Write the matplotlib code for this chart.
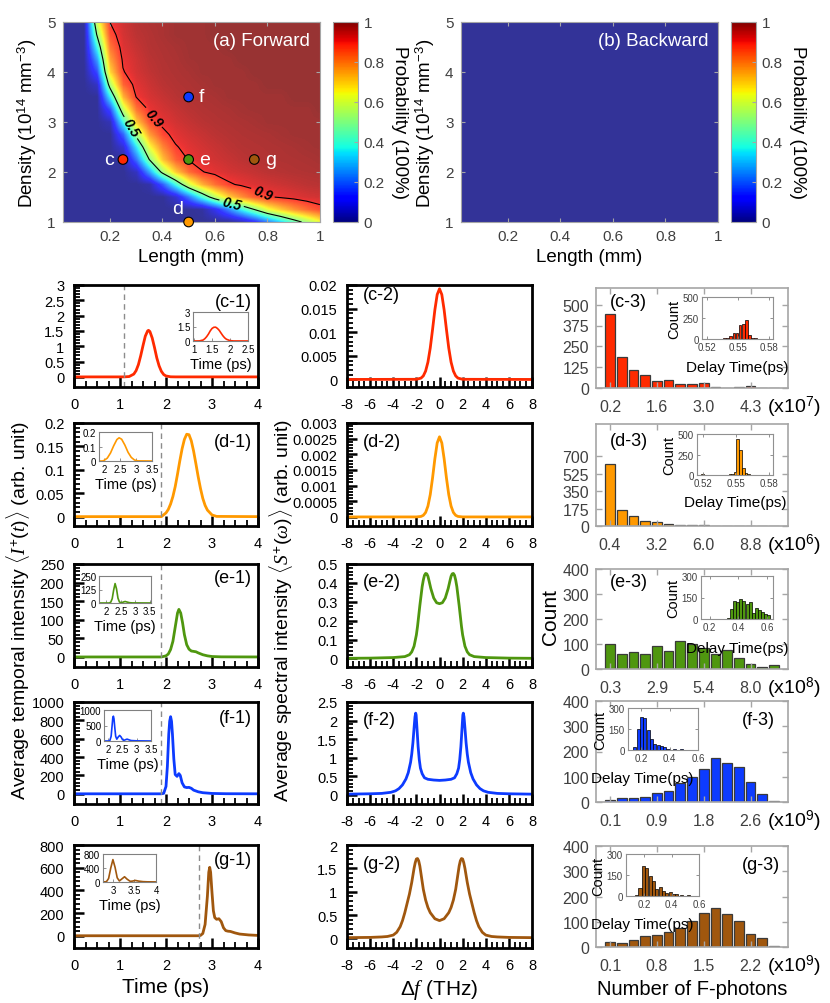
import numpy as np
import matplotlib
matplotlib.use('Agg')
import matplotlib.pyplot as plt
from matplotlib.ticker import FuncFormatter
from matplotlib.cm import ScalarMappable
from matplotlib.colors import Normalize

plt.rcParams['font.family'] = ['Liberation Sans', 'DejaVu Sans']
plt.rcParams['mathtext.fontset'] = 'custom'
plt.rcParams['mathtext.rm'] = 'Liberation Sans'
plt.rcParams['mathtext.it'] = 'Liberation Serif:italic'
plt.rcParams['mathtext.bf'] = 'Liberation Sans:bold'

# ---------------- data: panel (a)/(b) probability maps ----------------
length_grid = [0.0, 0.05, 0.10, 0.15, 0.20, 0.25, 0.30, 0.35, 0.40, 0.45, 0.50,
               0.55, 0.60, 0.65, 0.70, 0.75, 0.80, 0.85, 0.90, 0.95, 1.0]
density_grid = [1.0, 1.25, 1.5, 1.75, 2.0, 2.25, 2.5, 2.75, 3.0, 3.25, 3.5,
                3.75, 4.0, 4.25, 4.5, 4.75, 5.0]
prob_forward = [
    [0,0,0,0,0,0,0,0,0,0,0,0,0,0,0.035,0.11,0.22,0.33,0.44,0.54,0.64],
    [0,0,0,0,0,0,0,0,0,0,0,0.01,0.10,0.23,0.37,0.50,0.63,0.71,0.78,0.835,0.875],
    [0,0,0,0,0,0,0,0,0,0.065,0.22,0.40,0.57,0.70,0.786,0.855,0.892,0.91,0.922,0.933,0.939],
    [0,0,0,0,0,0,0,0.02,0.18,0.39,0.60,0.74,0.83,0.888,0.911,0.927,0.936,0.944,0.952,0.96,0.964],
    [0,0,0,0,0,0,0.045,0.27,0.53,0.71,0.833,0.896,0.918,0.934,0.943,0.952,0.961,0.966,0.971,0.973,0.976],
    [0,0,0,0,0,0,0.21,0.5,0.72,0.85,0.904,0.926,0.939,0.949,0.96,0.967,0.971,0.974,0.976,0.979,0.984],
    [0,0,0,0,0,0.07,0.35,0.64,0.80,0.894,0.921,0.937,0.948,0.96,0.968,0.971,0.974,0.977,0.981,0.987,0.99],
    [0,0,0,0,0,0.19,0.53,0.77,0.88,0.919,0.937,0.949,0.961,0.968,0.973,0.976,0.979,0.985,0.99,0.99,0.99],
    [0,0,0,0,0.035,0.39,0.71,0.87,0.915,0.938,0.951,0.963,0.97,0.974,0.978,0.983,0.99,0.99,0.99,0.99,0.99],
    [0,0,0,0,0.16,0.58,0.82,0.91,0.935,0.95,0.963,0.971,0.975,0.979,0.987,0.99,0.99,0.99,0.99,0.99,1],
    [0,0,0,0,0.36,0.74,0.90,0.932,0.949,0.964,0.972,0.976,0.981,0.99,0.99,0.99,0.99,0.99,1,1,1],
    [0,0,0,0.05,0.55,0.845,0.92,0.944,0.962,0.971,0.976,0.982,0.99,0.99,0.99,0.99,1,1,1,1,1],
    [0,0,0,0.16,0.69,0.895,0.935,0.955,0.969,0.975,0.981,0.99,0.99,0.99,0.99,1,1,1,1,1,1],
    [0,0,0,0.26,0.76,0.91,0.94,0.962,0.972,0.978,0.988,0.99,0.99,0.99,1,1,1,1,1,1,1],
    [0,0,0,0.38,0.82,0.925,0.95,0.968,0.975,0.982,0.99,0.99,0.99,1,1,1,1,1,1,1,1],
    [0,0,0,0.50,0.87,0.935,0.96,0.97,0.98,0.99,0.99,0.99,1,1,1,1,1,1,1,1,1],
    [0,0,0,0.60,0.90,0.94,0.965,0.975,0.98,0.99,0.99,0.99,1,1,1,1,1,1,1,1,1],
]
prob_backward = [[0.0] * 21 for _ in range(17)]

point_names = ['c', 'd', 'e', 'f', 'g']
point_length = [0.25, 0.5, 0.5, 0.5, 0.75]
point_density = [2.25, 1.0, 2.25, 3.5, 2.25]
colors = {'c': '#FF2A00', 'd': '#FF9900', 'e': '#4F970F', 'f': '#0D3BFF', 'g': '#A0570E'}

# ---------------- data: temporal intensity (column 1) ----------------
t_c = [0, 1.0, 1.1, 1.2, 1.3, 1.35, 1.4, 1.45, 1.5, 1.55, 1.6, 1.62, 1.65, 1.7, 1.75, 1.8, 1.85, 1.9, 1.95, 2.0, 2.1, 2.2, 4.0]
I_c = [0, 0, 0.001, 0.012, 0.091, 0.205, 0.40, 0.69, 1.02, 1.33, 1.50, 1.52, 1.48, 1.27, 0.96, 0.62, 0.36, 0.18, 0.076, 0.03, 0.003, 0, 0]
t_c_in = [0.97, 1.15, 1.25, 1.3, 1.35, 1.4, 1.45, 1.5, 1.55, 1.6, 1.65, 1.7, 1.75, 1.8, 1.85, 1.9, 2.0, 2.1, 2.5]
I_c_in = [0, 0.01, 0.1, 0.24, 0.45, 0.72, 1.05, 1.3, 1.42, 1.43, 1.3, 1.1, 0.82, 0.55, 0.33, 0.18, 0.04, 0.005, 0]

t_d = [0, 1.9, 2.0, 2.05, 2.1, 2.15, 2.2, 2.25, 2.3, 2.35, 2.4, 2.45, 2.5, 2.55, 2.6, 2.65, 2.7, 2.75, 2.8, 2.85, 2.9, 3.0, 3.1, 4.0]
I_d = [0, 0, 0.008, 0.0154, 0.027, 0.043, 0.064, 0.0906, 0.119, 0.145, 0.165, 0.176, 0.175, 0.162, 0.14, 0.113, 0.085, 0.06, 0.039, 0.024, 0.014, 0.0036, 0.0005, 0]
t_d_in = [1.84, 1.95, 2.0, 2.1, 2.2, 2.3, 2.4, 2.47, 2.55, 2.65, 2.75, 2.85, 2.95, 3.05, 3.5]
I_d_in = [0, 0, 0.004, 0.02, 0.055, 0.105, 0.148, 0.16, 0.15, 0.11, 0.06, 0.025, 0.007, 0.001, 0]

t_e = [0, 1.9, 2.0, 2.05, 2.1, 2.15, 2.2, 2.25, 2.28, 2.32, 2.36, 2.4, 2.45, 2.5, 2.55, 2.6, 2.65, 2.7, 2.8, 2.9, 3.0, 3.2, 4.0]
I_e = [0, 0, 3, 8, 20, 42, 80, 118, 128, 118, 92, 60, 33, 21, 16, 15, 14, 11, 6, 3, 1.2, 0.3, 0]
t_e_in = [1.74, 2.1, 2.15, 2.2, 2.25, 2.3, 2.35, 2.4, 2.45, 2.5, 2.55, 2.6, 2.65, 2.7, 2.8, 2.9, 3.55]
I_e_in = [0, 0, 8, 40, 120, 180, 130, 45, 10, 3, 5, 10, 14, 10, 3, 1, 0]

t_f = [0, 1.9, 1.95, 2.0, 2.03, 2.06, 2.08, 2.1, 2.12, 2.14, 2.17, 2.2, 2.24, 2.28, 2.31, 2.35, 2.4, 2.45, 2.5, 2.55, 2.6, 2.7, 2.8, 3.0, 3.3, 4.0]
I_f = [0, 0, 5, 80, 300, 650, 790, 840, 790, 650, 380, 210, 190, 220, 200, 120, 75, 68, 70, 60, 40, 22, 12, 4, 1, 0]
t_f_in = [1.85, 2.05, 2.1, 2.13, 2.16, 2.18, 2.2, 2.23, 2.26, 2.3, 2.35, 2.4, 2.45, 2.5, 2.55, 2.6, 2.66, 2.72, 2.8, 3.0, 3.5]
I_f_in = [0, 0, 150, 450, 760, 800, 720, 420, 150, 60, 130, 180, 130, 45, 20, 40, 60, 40, 15, 5, 0]

t_g = [0, 2.7, 2.75, 2.8, 2.85, 2.9, 2.93, 2.95, 2.97, 3.0, 3.03, 3.06, 3.1, 3.15, 3.2, 3.25, 3.3, 3.35, 3.4, 3.5, 3.6, 3.8, 4.0]
I_g = [0, 0, 3, 20, 100, 350, 560, 603, 560, 380, 220, 160, 145, 150, 125, 70, 45, 40, 38, 25, 15, 7, 3]
t_g_in = [2.77, 2.85, 2.9, 2.95, 3.0, 3.05, 3.1, 3.15, 3.2, 3.27, 3.33, 3.4, 3.45, 3.52, 3.6, 3.7, 3.8, 4.0]
I_g_in = [0, 10, 100, 400, 640, 420, 120, 30, 80, 150, 80, 20, 25, 45, 25, 10, 5, 2]

dash_time = {'c': 1.08, 'd': 1.9, 'e': 1.9, 'f': 1.9, 'g': 2.72}

# ---------------- data: spectral intensity (column 2) ----------------
freq_cd = [-8, -2.0, -1.6, -1.4, -1.2, -1.0, -0.8, -0.6, -0.4, -0.2, 0.0, 0.2, 0.4, 0.6, 0.8, 1.0, 1.2, 1.4, 1.6, 2.0, 8]
spec_c = [0, 0.00003, 0.00028, 0.00075, 0.00178, 0.00367, 0.00666, 0.01059, 0.01474, 0.01797, 0.0192,
          0.01797, 0.01474, 0.01059, 0.00666, 0.00367, 0.00178, 0.00075, 0.00028, 0.00003, 0]
spec_d = [0, 0, 0.0000153, 0.0000507, 0.000143, 0.000346, 0.000712, 0.001246, 0.001859, 0.002363, 0.00256,
          0.002363, 0.001859, 0.001246, 0.000712, 0.000346, 0.000143, 0.0000507, 0.0000153, 0, 0]
freq_e = [-8, -6, -4, -3, -2.6, -2.4, -2.2, -2.0, -1.9, -1.8, -1.7, -1.6, -1.5, -1.4, -1.3, -1.2, -1.1, -1.0, -0.9, -0.75, -0.5, -0.25,
          0, 0.25, 0.5, 0.75, 0.9, 1.0, 1.1, 1.2, 1.3, 1.4, 1.5, 1.6, 1.7, 1.8, 1.9, 2.0, 2.2, 2.4, 2.6, 3, 4, 6, 8]
spec_e = [0.001, 0.002, 0.005, 0.01, 0.02, 0.035, 0.065, 0.125, 0.17, 0.225, 0.28, 0.33, 0.38, 0.415, 0.44, 0.45, 0.448, 0.435, 0.41, 0.37, 0.32, 0.295,
          0.29, 0.295, 0.32, 0.37, 0.41, 0.435, 0.448, 0.45, 0.44, 0.415, 0.38, 0.33, 0.28, 0.225, 0.17, 0.125, 0.065, 0.035, 0.02, 0.01, 0.005, 0.002, 0.001]
freq_f = [-8, -6, -5, -4.2, -3.8, -3.5, -3.2, -2.9, -2.7, -2.5, -2.4, -2.3, -2.2, -2.12, -2.06, -2.02, -1.95, -1.85, -1.75, -1.65, -1.5, -1.3, -1.0, -0.5,
          0, 0.5, 1.0, 1.3, 1.5, 1.65, 1.75, 1.85, 1.95, 2.02, 2.06, 2.12, 2.2, 2.3, 2.4, 2.5, 2.7, 2.9, 3.2, 3.5, 3.8, 4.2, 5, 6, 8]
spec_f = [0.02, 0.03, 0.04, 0.07, 0.11, 0.17, 0.27, 0.43, 0.6, 0.88, 1.1, 1.4, 1.8, 2.1, 2.2, 2.15, 1.8, 1.3, 0.95, 0.72, 0.57, 0.46, 0.42, 0.40,
          0.39, 0.40, 0.42, 0.46, 0.57, 0.72, 0.95, 1.3, 1.8, 2.15, 2.2, 2.1, 1.8, 1.4, 1.1, 0.88, 0.6, 0.43, 0.27, 0.17, 0.11, 0.07, 0.04, 0.03, 0.02]
freq_g = [-8, -6, -5, -4.5, -4.0, -3.7, -3.4, -3.2, -3.0, -2.8, -2.6, -2.4, -2.2, -2.1, -2.0, -1.9, -1.8, -1.7, -1.55, -1.4, -1.2, -1.0, -0.8, -0.4,
          0, 0.4, 0.8, 1.0, 1.2, 1.4, 1.55, 1.7, 1.8, 1.9, 2.0, 2.1, 2.2, 2.4, 2.6, 2.8, 3.0, 3.2, 3.4, 3.7, 4.0, 4.5, 5, 6, 8]
spec_g = [0.015, 0.02, 0.03, 0.04, 0.07, 0.13, 0.25, 0.38, 0.55, 0.75, 0.95, 1.2, 1.5, 1.62, 1.70, 1.71, 1.66, 1.55, 1.3, 1.05, 0.82, 0.66, 0.55, 0.42,
          0.38, 0.42, 0.55, 0.66, 0.82, 1.05, 1.3, 1.55, 1.66, 1.71, 1.70, 1.62, 1.5, 1.2, 0.95, 0.75, 0.55, 0.38, 0.25, 0.13, 0.07, 0.04, 0.03, 0.02, 0.015]

# ---------------- data: histograms (column 3) ----------------
count_c = [446, 188, 109, 79, 40, 50, 24, 24, 28, 6, 0, 5, 10, 3, 3]
count_d = [620, 162, 97, 55, 41, 20, 10, 8, 6, 5, 4, 4, 2, 1, 1]
count_e = [99, 59, 69, 61, 91, 72, 113, 99, 85, 59, 77, 45, 20, 9, 15]
count_f = [7, 17, 16, 20, 36, 45, 74, 100, 131, 173, 154, 139, 80, 30, 4]
count_g = [20, 17, 29, 42, 49, 59, 77, 102, 135, 154, 131, 102, 50, 37, 4]
hist_ticklabels = {'c': ['0.2', '1.6', '3.0', '4.3'], 'd': ['0.4', '3.2', '6.0', '8.8'],
                   'e': ['0.3', '2.9', '5.4', '8.0'], 'f': ['0.1', '0.9', '1.8', '2.6'],
                   'g': ['0.1', '0.8', '1.5', '2.2']}
hist_exponent = {'c': 7, 'd': 6, 'e': 8, 'f': 9, 'g': 9}

delay_c = [0.527, 0.533, 0.537, 0.540, 0.543, 0.546, 0.549, 0.552, 0.555, 0.558, 0.561, 0.564, 0.567, 0.572]
dcount_c = [3, 5, 8, 15, 30, 70, 75, 170, 175, 230, 50, 15, 6, 3]
delay_d = [0.520, 0.545, 0.547, 0.5495, 0.552, 0.5545, 0.557, 0.5595, 0.562, 0.567]
dcount_d = [10, 8, 15, 40, 440, 300, 80, 20, 8, 4]
delay_e = [0.330, 0.352, 0.373, 0.395, 0.416, 0.438, 0.460, 0.481, 0.503, 0.524, 0.546, 0.568, 0.589, 0.611]
dcount_e = [10, 70, 124, 118, 140, 125, 105, 120, 45, 76, 60, 52, 35, 25]
delay_f = [0.153, 0.177, 0.200, 0.224, 0.247, 0.271, 0.294, 0.318, 0.341, 0.365, 0.388, 0.435, 0.482, 0.529]
dcount_f = [20, 153, 239, 227, 141, 80, 44, 37, 32, 20, 7, 5, 5, 2]
delay_g = [0.144, 0.168, 0.193, 0.217, 0.242, 0.266, 0.290, 0.315, 0.339, 0.364, 0.388, 0.412, 0.437, 0.473, 0.522, 0.571]
dcount_g = [5, 60, 211, 201, 144, 108, 48, 65, 36, 24, 29, 14, 12, 10, 5, 2]

# ---------------- figure ----------------
W, H = 830, 1004
fig = plt.figure(figsize=(W / 100, H / 100), dpi=100)


def px(l, t, r, b):
    return [l / W, 1 - b / H, (r - l) / W, (b - t) / H]


gfmt = FuncFormatter(lambda v, p: '%g' % round(v, 6))
GRAY_FRAME = '#a6a6a6'
GRAY_TXT = '#404040'


def map_panel(l, r, data, title):
    ax = fig.add_axes(px(l, 23, r, 223))
    ax.imshow(np.array(data), origin='lower', extent=[-0.025, 1.025, 0.875, 5.125], aspect='auto',
              cmap='jet', vmin=0, vmax=1, interpolation='bilinear', interpolation_stage='data', alpha=0.8)
    ax.set_xlim(0.02, 1)
    ax.set_ylim(1, 5)
    ax.set_xticks([0.2, 0.4, 0.6, 0.8, 1.0])
    ax.set_yticks([1, 2, 3, 4, 5])
    ax.xaxis.set_major_formatter(gfmt)
    ax.tick_params(direction='in', length=3, color=GRAY_FRAME, labelcolor=GRAY_TXT, labelsize=11, pad=5,
                   top=True, right=True)
    for s in ax.spines.values():
        s.set_color(GRAY_FRAME)
        s.set_linewidth(0.8)
    ax.set_xlabel('Length (mm)', fontsize=13.5, labelpad=4)
    ax.set_ylabel(r'Density (10$^{14}$ mm$^{-3}$)', fontsize=13.5, labelpad=6)
    ax.text(0.962, 0.91, title, transform=ax.transAxes, ha='right', va='center', color='white', fontsize=13.5)
    cax = fig.add_axes(px(r + 13, 23, r + 38, 223))
    cb = fig.colorbar(ScalarMappable(norm=Normalize(0, 1), cmap='jet'), cax=cax)
    cb.set_ticks([0, 0.2, 0.4, 0.6, 0.8, 1])
    cb.ax.yaxis.set_major_formatter(gfmt)
    cb.ax.tick_params(direction='in', length=3, color=GRAY_FRAME, labelcolor=GRAY_TXT, labelsize=11, pad=4)
    cb.outline.set_edgecolor(GRAY_FRAME)
    cb.outline.set_linewidth(0.8)
    cb.set_label('Probability (100%)', rotation=270, fontsize=13.5, labelpad=17)
    return ax


ax_a = map_panel(62.5, 320, prob_forward, '(a) Forward')
cs = ax_a.contour(length_grid, density_grid, prob_forward, levels=[0.5, 0.9], colors='k', linewidths=0.8)
lbls = ax_a.clabel(cs, fmt={0.5: '0.5', 0.9: '0.9'}, fontsize=10, inline=True, inline_spacing=3,
                   manual=[(0.30, 2.95), (0.42, 3.35), (0.66, 1.30), (0.78, 1.55)])
for tx in lbls:
    tx.set_fontweight('bold')
    tx.set_fontstyle('italic')
ax_a.scatter(point_length, point_density, c=[colors[n] for n in point_names], s=48,
             edgecolors='k', linewidths=0.8, zorder=6, clip_on=False)
label_offsets = {'c': (-0.035, 0.0, 'right', 'center'), 'd': (-0.02, 0.1, 'right', 'bottom'),
                 'e': (0.04, 0.0, 'left', 'center'), 'f': (0.04, 0.0, 'left', 'center'),
                 'g': (0.04, 0.0, 'left', 'center')}
for n, L, D in zip(point_names, point_length, point_density):
    dx, dy, ha, va = label_offsets[n]
    ax_a.text(L + dx, D + dy, n, color='white', fontsize=14, ha=ha, va=va, zorder=7)

ax_b = map_panel(460.5, 718, prob_backward, '(b) Backward')

# ---------------- columns 1 and 2 ----------------
rows = ['c', 'd', 'e', 'f', 'g']
row_tb = {'c': (286, 388), 'd': (424, 527), 'e': (565, 668), 'f': (703, 805), 'g': (846, 949)}
row_tb3 = {'c': (289, 389), 'd': (425, 527), 'e': (570, 670), 'f': (702, 803), 'g': (847, 948)}
temporal = {'c': (t_c, I_c, t_c_in, I_c_in), 'd': (t_d, I_d, t_d_in, I_d_in), 'e': (t_e, I_e, t_e_in, I_e_in),
            'f': (t_f, I_f, t_f_in, I_f_in), 'g': (t_g, I_g, t_g_in, I_g_in)}
spectral = {'c': (freq_cd, spec_c), 'd': (freq_cd, spec_d), 'e': (freq_e, spec_e),
            'f': (freq_f, spec_f), 'g': (freq_g, spec_g)}
ylim1 = {'c': (-0.33, 3, 0.5), 'd': (-0.02, 0.2, 0.05), 'e': (-27, 250, 50), 'f': (-111, 1000, 200), 'g': (-108, 800, 200)}
ylim2 = {'c': (-0.0016, 0.02, 0.005), 'd': (-0.00029, 0.003, 0.0005), 'e': (-0.045, 0.5, 0.1),
         'f': (-0.245, 2.5, 0.5), 'g': (-0.207, 2, 0.5)}
inset1 = {'c': ((193, 313, 248, 342), (0.97, 2.5), [1, 1.5, 2, 2.5], (0, 3), [0, 1.5, 3]),
          'd': ((99, 433, 152, 462), (1.84, 3.5), [2, 2.5, 3, 3.5], (0, 0.2), [0, 0.1, 0.2]),
          'e': ((99, 577, 151, 604), (1.74, 3.55), [2, 2.5, 3, 3.5], (0, 250), [0, 125, 250]),
          'f': ((104, 711, 151, 742), (1.85, 3.5), [2, 2.5, 3, 3.5], (0, 1000), [0, 500, 1000]),
          'g': ((103, 855, 156, 883), (2.77, 4.0), [3, 3.5, 4], (0, 800), [0, 400, 800])}
label1_y = {'c': 0.84, 'd': 0.82, 'e': 0.87, 'f': 0.85, 'g': 0.86}
label2_y = {'c': 0.91, 'd': 0.82, 'e': 0.83, 'f': 0.83, 'g': 0.82}


def style_line(ax, xminor, yminor):
    for s in ax.spines.values():
        s.set_linewidth(2.0)
        s.set_color('black')
    ax.set_xticks(xminor, minor=True)
    ax.set_yticks(yminor, minor=True)
    ax.tick_params(which='both', direction='in', top=False, right=False)
    ax.tick_params(which='major', length=7, width=1.8, labelsize=10.5, pad=7)
    ax.tick_params(which='minor', length=4, width=1.3)
    ax.xaxis.set_major_formatter(gfmt)
    ax.yaxis.set_major_formatter(gfmt)


for r in rows:
    top, bot = row_tb[r]
    col = colors[r]
    # column 1
    ax1 = fig.add_axes(px(74, top, 258, bot))
    t, I, ti, Ii = temporal[r]
    ax1.plot(t, I, color=col, lw=2.0)
    ax1.axvline(dash_time[r], color='#8c8c8c', ls=(0, (4, 3)), lw=1.0)
    lo, hi, st = ylim1[r]
    ax1.set_xlim(0, 4)
    ax1.set_ylim(lo, hi)
    ax1.set_xticks([0, 1, 2, 3, 4])
    ax1.set_yticks(np.arange(0, hi + st / 2, st))
    style_line(ax1, np.arange(0, 4.01, 0.25), np.arange(0, hi + st / 10, st / 5))
    ax1.text(0.967, label1_y[r], '(%s-1)' % r, transform=ax1.transAxes, ha='right', va='center', fontsize=13)
    box, xl, xt, yl, yt = inset1[r]
    axi = fig.add_axes(px(*box))
    axi.plot(ti, Ii, color=col, lw=1.2)
    axi.set_xlim(*xl)
    axi.set_ylim(*yl)
    axi.set_xticks(xt)
    axi.set_yticks(yt)
    axi.xaxis.set_major_formatter(gfmt)
    axi.yaxis.set_major_formatter(gfmt)
    axi.tick_params(direction='in', length=2, width=0.6, labelsize=7, pad=2, color='#808080')
    for s in axi.spines.values():
        s.set_color('#808080')
        s.set_linewidth(0.8)
    axi.set_xlabel('Time (ps)', fontsize=10.5, labelpad=2)
    if r == 'g':
        ax1.set_xlabel('Time (ps)', fontsize=15, labelpad=4)

    # column 2
    ax2 = fig.add_axes(px(347, top, 532, bot))
    f, S = spectral[r]
    ax2.plot(f, S, color=col, lw=2.0)
    lo, hi, st = ylim2[r]
    ax2.set_xlim(-8, 8)
    ax2.set_ylim(lo, hi)
    ax2.set_xticks(np.arange(-8, 9, 2))
    ax2.set_yticks(np.arange(0, hi + st / 2, st))
    style_line(ax2, np.arange(-8, 8.01, 0.5), np.arange(0, hi + st / 10, st / 5))
    ax2.text(0.087, label2_y[r], '(%s-2)' % r, transform=ax2.transAxes, ha='left', va='center', fontsize=13)
    if r == 'g':
        ax2.set_xlabel(r'$\Delta f$ (THz)', fontsize=15, labelpad=4)

fig.text(18 / W, 1 - 611 / H, r'Average temporal intensity $\langle I^{+}(t)\rangle$ (arb. unit)',
         rotation=90, ha='center', va='center', fontsize=14)
fig.text(281 / W, 1 - 611 / H, r'Average spectral intensity $\langle S^{+}(\omega)\rangle$ (arb. unit)',
         rotation=90, ha='center', va='center', fontsize=14)

# ---------------- column 3 ----------------
counts = {'c': count_c, 'd': count_d, 'e': count_e, 'f': count_f, 'g': count_g}
ylim3 = {'c': (600, [0, 125, 250, 375, 500]), 'd': (1025, [0, 175, 350, 525, 700]),
         'e': (400, [0, 100, 200, 300, 400]), 'f': (400, [0, 100, 200, 300, 400]),
         'g': (400, [0, 100, 200, 300, 400])}
delays = {'c': (delay_c, dcount_c), 'd': (delay_d, dcount_d), 'e': (delay_e, dcount_e),
          'f': (delay_f, dcount_f), 'g': (delay_g, dcount_g)}
inset3 = {'c': ((702, 298, 773, 340), (0.515, 0.584), [0.52, 0.55, 0.58], 500, [0, 250, 500], 0.0027, 0.5),
          'd': ((697, 435, 773, 476), (0.515, 0.584), [0.52, 0.55, 0.58], 500, [0, 250, 500], 0.0024, 0.5),
          'e': ((701, 577, 773, 620), (0.14, 0.64), [0.2, 0.4, 0.6], 300, [0, 150, 300], 0.020, 0.5),
          'f': ((628, 709, 698, 751), (0.105, 0.6), [0.2, 0.4, 0.6], 300, [0, 150, 300], 0.022, 0.2),
          'g': ((626, 855, 699, 897), (0.065, 0.6), [0.2, 0.4, 0.6], 300, [0, 150, 300], 0.023, 0.22)}
label3 = {'c': (0.07, 0.86, 'left'), 'd': (0.07, 0.84, 'left'), 'e': (0.07, 0.87, 'left'),
          'f': (0.93, 0.82, 'right'), 'g': (0.96, 0.82, 'right')}

for r in rows:
    top, bot = row_tb3[r]
    col = colors[r]
    ax3 = fig.add_axes(px(596, top, 788, bot))
    vals = counts[r]
    ax3.bar(np.arange(len(vals)), vals, width=0.82, color=col, edgecolor='#3a3a3a', linewidth=0.9)
    ax3.set_xlim(-1.2, 15.2)
    ymax, yt = ylim3[r]
    ax3.set_ylim(0, ymax)
    ax3.set_yticks(yt)
    ax3.set_xticks([0, 4, 8, 12])
    ax3.set_xticklabels(hist_ticklabels[r])
    ax3.tick_params(direction='in', length=4, width=1.0, color=GRAY_FRAME, labelcolor=GRAY_TXT, labelsize=11.5,
                    top=True, right=True)
    ax3.tick_params(axis='x', pad=8)
    ax3.tick_params(axis='y', pad=5)
    for s in ax3.spines.values():
        s.set_color(GRAY_FRAME)
        s.set_linewidth(1.2)
    lx, ly, lha = label3[r]
    ax3.text(lx, ly, '(%s-3)' % r, transform=ax3.transAxes, ha=lha, va='center', fontsize=13)
    fig.text(767 / W, 1 - (bot + 18) / H, r'(x10$^{%d}$)' % hist_exponent[r], ha='left', va='center', fontsize=14)
    if r == 'g':
        ax3.set_xlabel('Number of F-photons', fontsize=14.5, labelpad=4)

    box, xl, xt, ym, ytk, bw, xlab = inset3[r]
    axi = fig.add_axes(px(*box))
    dx, dc = delays[r]
    axi.bar(dx, dc, width=bw, color=col, edgecolor='black', linewidth=0.5)
    axi.set_xlim(*xl)
    axi.set_ylim(0, ym)
    axi.set_xticks(xt)
    axi.set_yticks(ytk)
    axi.xaxis.set_major_formatter(gfmt)
    axi.tick_params(direction='in', length=2, width=0.6, labelsize=7, pad=2.5, color='#808080',
                    labelcolor=GRAY_TXT, top=True, right=True)
    for s in axi.spines.values():
        s.set_color('#909090')
        s.set_linewidth(0.8)
    axi.set_xlabel('Delay Time(ps)', fontsize=11, labelpad=1)
    axi.xaxis.set_label_coords(xlab, -0.5)
    axi.set_ylabel('Count', fontsize=10.5, labelpad=1)

fig.text(550 / W, 1 - 617 / H, 'Count', rotation=90, ha='center', va='center', fontsize=15)

fig.savefig('out.png', dpi=100)
